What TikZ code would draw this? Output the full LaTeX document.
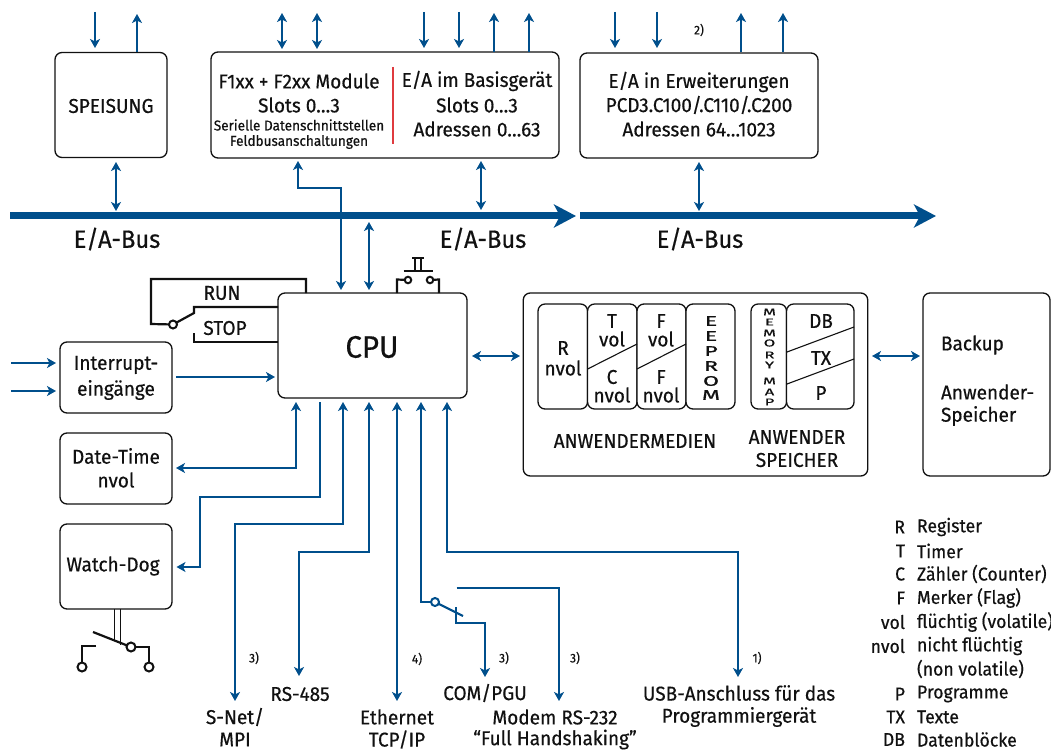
\documentclass[tikz,border=0pt]{standalone}
\usepackage{fontspec}
\setmainfont[FakeStretch=0.95,RawFeature={embolden=0.5}]{Fira Sans}
\usetikzlibrary{arrows.meta,calc}
\definecolor{busblue}{HTML}{004F8C}
\definecolor{redline}{HTML}{DF3B3F}
\definecolor{inkb}{HTML}{111111}
\newcommand{\fs}[1]{\fontsize{#1}{#1}\selectfont}
\tikzset{
  bx/.style={draw=inkb,line width=1.3pt,rounded corners=7pt,fill=white,inner sep=0pt,outer sep=0pt},
  cell/.style={bx,rounded corners=7pt},
  tx/.style={inner sep=0pt,outer sep=0pt,text=inkb,font=\fs{20},anchor=center},
  lg/.style={tx,font=\fs{18.6}},
  note/.style={tx,font=\fs{12.5}},
  sig/.style={draw=busblue,line width=2.2pt,-{Stealth[length=9pt,width=10pt,inset=2.5pt]}},
  sigd/.style={draw=busblue,line width=2.2pt,{Stealth[length=9pt,width=10pt,inset=2.5pt]}-{Stealth[length=9pt,width=10pt,inset=2.5pt]}},
  plain/.style={draw=busblue,line width=2.2pt},
  bus/.style={draw=busblue,line width=7pt,-{Stealth[length=22pt,width=23pt,inset=6pt]}},
  wire/.style={draw=inkb,line width=2.2pt},
  ring/.style={circle,draw=inkb,line width=2pt,fill=white,inner sep=0pt,outer sep=0pt},
  ringb/.style={circle,draw=busblue,line width=2pt,fill=white,inner sep=0pt,outer sep=0pt},
  diag/.style={draw=inkb,line width=1.1pt},
}
\newcommand{\wide}[1]{\scalebox{1.75}[1]{#1}}
\begin{document}
\begin{tikzpicture}[x=1pt,y=-1pt]
\useasboundingbox (0,0) rectangle (1051,751);
% boxes
\node[bx,minimum width=112pt,minimum height=105pt] (speis) at (111,105) {};
\node[bx,minimum width=348pt,minimum height=106pt] (mod) at (385,105) {};
\node[bx,minimum width=238pt,minimum height=105pt] (erw) at (699,105.5) {};
\node[bx,minimum width=189pt,minimum height=105pt] (cpu) at (372.5,345.5) {};
\node[bx,minimum width=112pt,minimum height=71pt] (intr) at (116,377.5) {};
\node[bx,minimum width=112pt,minimum height=71pt] (date) at (116,468.5) {};
\node[bx,minimum width=112pt,minimum height=85pt] (wd) at (116,566.5) {};
\node[bx,minimum width=344.5pt,minimum height=183pt] (media) at (695.5,384.5) {};
\node[bx,minimum width=127pt,minimum height=183pt] (backup) at (986.5,384.5) {};
% media cells
\node[cell,minimum width=49.5pt,minimum height=105pt] (cr) at (562.8,356.5) {};
\node[cell,minimum width=49.5pt,minimum height=105pt] (ct) at (612.3,356.5) {};
\node[cell,minimum width=49pt,minimum height=105pt] (cf) at (661.5,356.5) {};
\node[cell,minimum width=49pt,minimum height=105pt] (ce) at (710.5,356.5) {};
\node[cell,minimum width=35.5pt,minimum height=105pt] (cm) at (768.8,356.5) {};
\node[cell,minimum width=67.5pt,minimum height=105pt] (cd) at (820.3,356.5) {};
\draw[diag] (587.6,369) -- (637,344);
\draw[diag] (637,369) -- (686,344);
\draw[diag] (787,352) -- (854,327);
\draw[diag] (787,384) -- (854,359);
% red divider
\coordinate (rt) at (393,67); \coordinate (rb) at (393,144);
\draw[draw=redline,line width=2pt] (rt) -- (rb);
% bus
\coordinate (b1s) at (10,216); \coordinate (b1e) at (576,216);
\coordinate (b2s) at (580,216); \coordinate (b2e) at (936,216);
\draw[bus] (b1s) -- (b1e);
\draw[bus] (b2s) -- (b2e);
% top arrows
\foreach \n/\x in {a/95,b/424,c/459,d/615,e/657}{
  \coordinate (t\n) at (\x,12);
  \draw[sig] (t\n) -- (\x,48);}
\coordinate (u1) at (137,52); \draw[sig] (u1) -- (137,14);
\coordinate (u2) at (494,52); \draw[sig] (u2) -- (494,13);
\coordinate (u3) at (529,52); \draw[sig] (u3) -- (529,13);
\coordinate (u4) at (741,52); \draw[sig] (u4) -- (741,13);
\coordinate (u5) at (783,52); \draw[sig] (u5) -- (783,13);
\coordinate (d1) at (282,13); \draw[sigd] (d1) -- (282,49);
\coordinate (d2) at (317,13); \draw[sigd] (d2) -- (317,49);
% box to bus
\coordinate (s1) at (116,162); \draw[sigd] (s1) -- (116,211);
\coordinate (s2) at (481,161); \draw[sigd] (s2) -- (481,210);
\coordinate (s3) at (699,162); \draw[sigd] (s3) -- (699,211);
% module to cpu
\coordinate (mo) at (298,161); \coordinate (mo2) at (298,188); \coordinate (mo3) at (341,188); \coordinate (mo4) at (341,290);
\draw[sigd] (mo) -- (mo2) -- (mo3) -- (mo4);
\coordinate (be1) at (369,222); \coordinate (be2) at (369,290);
\draw[sigd] (be1) -- (be2);
% run/stop
\coordinate (r1) at (306,293); \coordinate (r2) at (306,279); \coordinate (r3) at (151,279); \coordinate (r4) at (151,324);
\node[ring,minimum size=8pt] (sw) at (173,324.5) {};
\coordinate (lev) at (194,313); \coordinate (lev2) at (194,307); \coordinate (lev3) at (278,307);
\coordinate (st1) at (194,333); \coordinate (st2) at (194,342); \coordinate (st3) at (278,342);
\draw[wire,line join=miter] (r1) -- (r2) -- (r3) -- (r4) -- (sw);
\draw[wire] (sw) -- (lev) -- (lev2) -- (lev3);
\draw[wire] (st1) -- (st2) -- (st3);
% push button
\node[ring,minimum size=6.5pt] (pb1) at (408,280) {};
\node[ring,minimum size=6.5pt] (pb2) at (430,280) {};
\coordinate (p1) at (397,293); \coordinate (p2) at (397,279.5);
\coordinate (p3) at (439,293); \coordinate (p4) at (439,279.5);
\draw[wire] (p1) -- (p2) -- (pb1);
\draw[wire] (p3) -- (p4) -- (pb2);
\coordinate (bar1) at (403.5,271); \coordinate (bar2) at (432.5,271);
\draw[wire] (bar1) -- (bar2);
\coordinate (st4) at (415,271); \coordinate (st5) at (415,258);
\coordinate (st6) at (421,271); \coordinate (st7) at (421,258);
\draw[wire,line width=1.8pt] (st4) -- (st5);
\draw[wire,line width=1.8pt] (st6) -- (st7);
\coordinate (st8) at (412,258); \coordinate (st9) at (424,258);
\draw[wire,line width=1.8pt] (st8) -- (st9);
% interrupts
\coordinate (i1) at (11,363); \coordinate (i2) at (11,391);
\draw[sig] (i1) -- (56,363);
\draw[sig] (i2) -- (56,391);
\coordinate (ic) at (176,377);
\draw[sig] (ic) -- (275,377);
% date-time
\coordinate (dt1) at (296,402); \coordinate (dt2) at (296,468); \coordinate (dt3) at (176,468);
\draw[sigd] (dt1) -- (dt2) -- (dt3);
% watch-dog arrow
\coordinate (w1) at (320,402); \coordinate (w2) at (320,497); \coordinate (w3) at (200,497); \coordinate (w4) at (200,567); \coordinate (w5) at (176.5,567);
\draw[sig] (w1) -- (w2) -- (w3) -- (w4) -- (w5);
% s-net
\coordinate (sn1) at (343,402); \coordinate (sn2) at (343,524); \coordinate (sn3) at (235,524); \coordinate (sn4) at (235,701);
\draw[sigd] (sn1) -- (sn2) -- (sn3) -- (sn4);
% rs-485
\coordinate (rs1) at (369,402); \coordinate (rs2) at (369,552); \coordinate (rs3) at (299,552); \coordinate (rs4) at (299,676);
\draw[sigd] (rs1) -- (rs2) -- (rs3) -- (rs4);
% ethernet
\coordinate (et1) at (397,402); \coordinate (et2) at (397,701);
\draw[sigd] (et1) -- (et2);
% com
\node[ringb,minimum size=8pt] (csw) at (435,602) {};
\coordinate (c1) at (421,402); \coordinate (c2) at (421,602);
\draw[draw=busblue,line width=2.2pt,{Stealth[length=9pt,width=10pt,inset=2.5pt]}-] (c1) -- (c2) -- (csw);
\coordinate (lv) at (463,616);
\draw[plain] (csw) -- (lv);
\coordinate (c3) at (456,607); \coordinate (c4) at (456,623); \coordinate (c5) at (485,623); \coordinate (c6) at (485,677);
\draw[sig] (c3) -- (c4) -- (c5) -- (c6);
\coordinate (mm1) at (456.5,588); \coordinate (mm2) at (559,588); \coordinate (mm3) at (559,701);
\draw[sig] (mm1) -- (mm2) -- (mm3);
% usb
\coordinate (us1) at (447,402); \coordinate (us2) at (447,552); \coordinate (us3) at (738,552); \coordinate (us4) at (738,677);
\draw[sigd] (us1) -- (us2) -- (us3) -- (us4);
% cpu-media-backup
\coordinate (cm1) at (472,356); \coordinate (cm2) at (520,356);
\draw[sigd] (cm1) -- (cm2);
\coordinate (mb1) at (872,356); \coordinate (mb2) at (920,356);
\draw[sigd] (mb1) -- (mb2);
% watch-dog switch
\coordinate (wa) at (114.5,609); \coordinate (wb) at (114.5,641);
\coordinate (wc) at (120.5,609); \coordinate (wd2) at (120.5,645);
\draw[wire,line width=1.8pt] (wa) -- (wb);
\draw[wire,line width=1.8pt] (wc) -- (wd2);
\node[ring,minimum size=9pt] (wr) at (131,647) {};
\coordinate (wl) at (93,632);
\draw[wire] (wl) -- (wr);
\node[ring,minimum size=9pt] (wr2) at (149,667) {};
\node[ring,minimum size=9pt] (wr3) at (82,667) {};
\coordinate (wm) at (149,647);
\draw[wire] (wr) -- (wm) -- (wr2);
\coordinate (wn) at (96,646); \coordinate (wo) at (82,646);
\draw[wire] (wn) -- (wo) -- (wr3);
% labels
\node[tx] (lspeis) at (111,106) {SPEISUNG};
\node[tx] (l1) at (299,81) {F1xx + F2xx Module};
\node[tx] (l2) at (299,105) {Slots 0…3};
\node[tx,font=\fs{14.3}] (l3) at (299,125) {Serielle Datenschnittstellen};
\node[tx,font=\fs{14.3}] (l4) at (299,142) {Feldbusanschaltungen};
\node[tx] (l5) at (477,81) {E/A im Basisgerät};
\node[tx] (l6) at (477,105) {Slots 0…3};
\node[tx] (l7) at (477,129) {Adressen 0…63};
\node[tx] (l8) at (699,82) {E/A in Erweiterungen};
\node[tx] (l9) at (699,105) {PCD3.C100/.C110/.C200};
\node[tx] (l10) at (699,129) {Adressen 64…1023};
\node[note] (n2) at (699,30) {2)};
\node[tx,font=\fs{25}] (bl1) at (117,239) {E/A-Bus};
\node[tx,font=\fs{25}] (bl2) at (483,239) {E/A-Bus};
\node[tx,font=\fs{25}] (bl3) at (700,239) {E/A-Bus};
\node[tx] (lrun) at (222,293) {RUN};
\node[tx] (lstop) at (225,328) {STOP};
\node[tx,font=\fs{31}] (lcpu) at (372,347) {CPU};
\node[tx] (li1) at (116,365) {Interrupt-};
\node[tx] (li2) at (116,390) {eingänge};
\node[tx] (ld1) at (116,456) {Date-Time};
\node[tx] (ld2) at (116,480) {nvol};
\node[tx] (lw) at (113,566) {Watch-Dog};
% media labels
\node[tx] (m1) at (563,348) {R};
\node[tx] (m2) at (563,368) {nvol};
\node[tx] (m3) at (612,321) {T};
\node[tx] (m4) at (612,339) {vol};
\node[tx] (m5) at (612,377) {C};
\node[tx] (m6) at (612,395) {nvol};
\node[tx] (m7) at (661,321) {F};
\node[tx] (m8) at (661,339) {vol};
\node[tx] (m9) at (661,377) {F};
\node[tx] (m10) at (661,395) {nvol};
\foreach \l/\y [count=\i] in {E/321,E/336,P/351,R/366,O/381,M/395}{
  \node[tx,font=\fs{14}] (ee\i) at (711,\y) {\wide{\l}};}
\foreach \l/\y [count=\i] in {M/312,E/322,M/333,O/343,R/355,Y/365,M/381,A/392,P/402}{
  \node[tx,font=\fs{10}] (mm\i) at (769.5,\y) {\wide{\l}};}
\node[tx] (m11) at (821,321) {DB};
\node[tx] (m12) at (821,358) {TX};
\node[tx] (m13) at (821,393) {P};
\node[tx] (m14) at (635,441) {ANWENDERMEDIEN};
\node[tx] (m15) at (797,437) {ANWENDER};
\node[tx] (m16) at (797,460) {SPEICHER};
\node[tx,anchor=west] (bk1) at (941,345) {Backup};
\node[tx,anchor=west] (bk2) at (941,392) {Anwender-};
\node[tx,anchor=west] (bk3) at (941,416) {Speicher};
% bottom labels
\node[note] (n3a) at (254,658) {3)};
\node[note] (n4) at (417,659) {4)};
\node[note] (n3b) at (504,658) {3)};
\node[note] (n3c) at (575,658) {3)};
\node[note] (n1) at (757,658) {1)};
\node[tx] (b1) at (300,694) {RS-485};
\node[tx] (b2) at (235,717) {S-Net/};
\node[tx] (b3) at (235,739.5) {MPI};
\node[tx] (b4) at (397,717) {Ethernet};
\node[tx] (b5) at (397,739.5) {TCP/IP};
\node[tx] (b6) at (485,693) {COM/PGU};
\node[tx] (b7) at (555,717) {Modem RS-232};
\node[tx] (b8) at (555,739.5) {“Full Handshaking”};
\node[tx] (b9) at (739,693) {USB-Anschluss für das};
\node[tx] (b10) at (739,717) {Programmiergerät};
% legend
\foreach \a/\d/\y [count=\i] in {R/Register/527,T/Timer/551,C/Zähler (Counter)/574,F/Merker (Flag)/598,vol/flüchtig (volatile)/622,nvol/nicht flüchtig/646,/(non volatile)/669,P/Programme/694,TX/Texte/717,DB/Datenblöcke/739.5}{
  \node[lg,anchor=east] (la\i) at (905,\y) {\a};
  \node[lg,anchor=west] (ld\i) at (917,\y) {\d};}
\end{tikzpicture}
\end{document}
